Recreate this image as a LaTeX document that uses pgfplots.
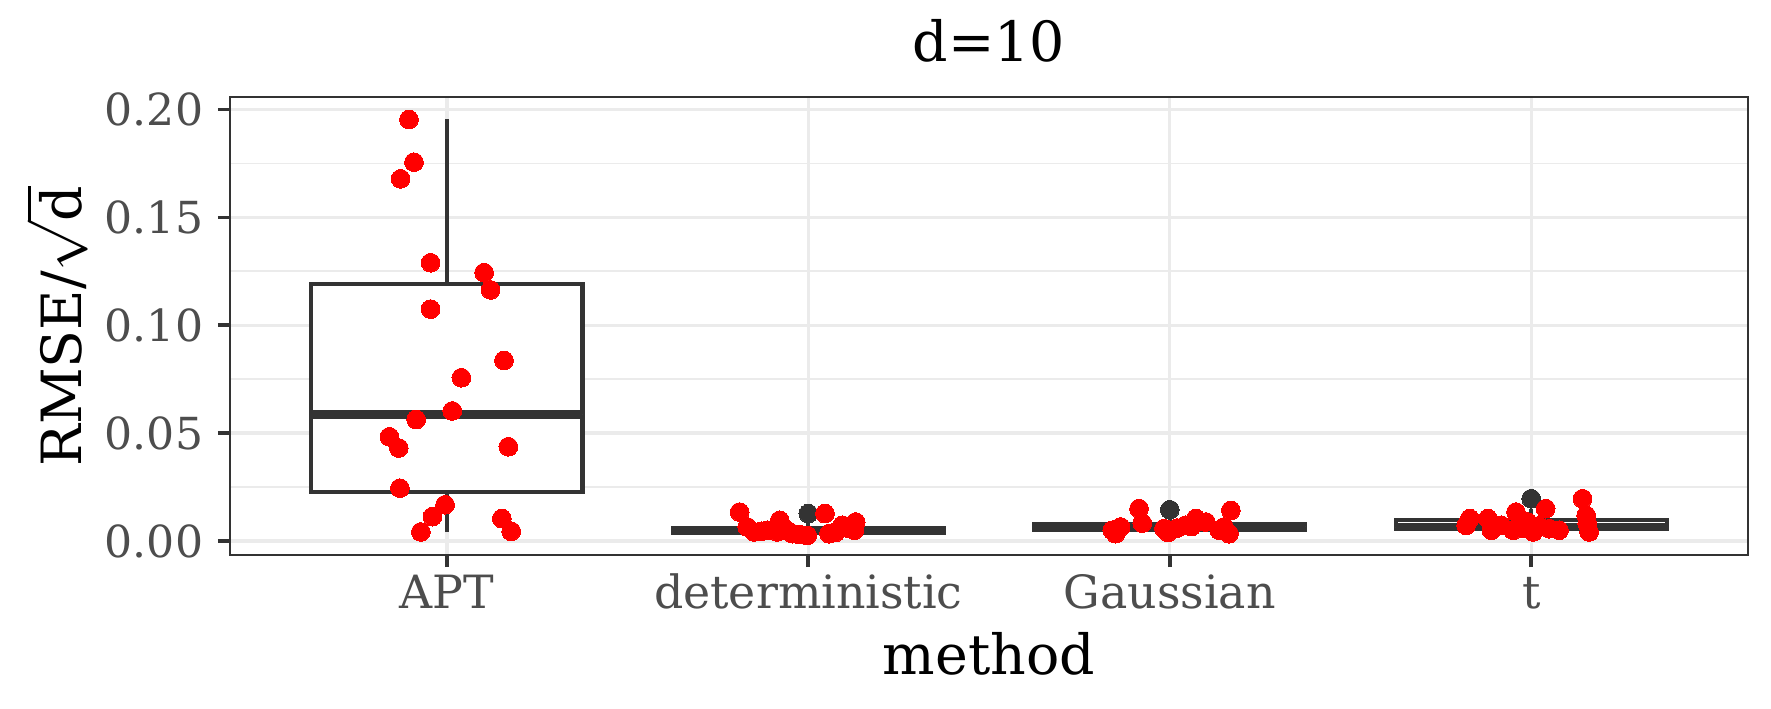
\documentclass[border=0pt]{standalone}
\usepackage{fontspec}
\setmainfont{DejaVu Serif}
\usepackage{pgfplots}
\pgfplotsset{compat=1.18}
\usepgfplotslibrary{statistics}
\definecolor{c333}{HTML}{333333}
\definecolor{c4d}{HTML}{4D4D4D}
\definecolor{gridc}{HTML}{EBEBEB}
\begin{document}
\begin{tikzpicture}
\path[use as bounding box] (-55.2pt,-36.8pt) rectangle (369.8pt,133.2pt);
\begin{axis}[
  at={(0,0)}, anchor=south west,
  scale only axis, width=364.3pt, height=109.9pt,
  xmin=-0.6, xmax=3.6, ymin=-0.0065, ymax=0.2058,
  xtick={0,1,2,3}, xticklabels={APT,deterministic,Gaussian,t},
  ytick={0,0.05,0.10,0.15,0.20}, yticklabels={0.00,0.05,0.10,0.15,0.20},
  minor ytick={0.025,0.075,0.125,0.175},
  tick align=outside, tick pos=left,
  major tick length=2.9pt,
  every tick/.style={c333, line width=0.9pt},
  minor tick length=0pt,
  axis line style={c333, line width=0.55pt},
  grid=both,
  major grid style={gridc, line width=0.8pt},
  minor grid style={gridc, line width=0.45pt},
  ticklabel style={font=\fontsize{11}{13}\selectfont, text=c4d},
  xticklabel style={anchor=base, yshift=-10pt},
  yticklabel style={anchor=east, font=\fontsize{10.6}{13}\selectfont},
  xlabel={method}, ylabel={RMSE/$\sqrt{\hbox{d}}$},
  label style={font=\fontsize{13.3}{16}\selectfont},
  xlabel style={at={(axis description cs:0.5,-0.26)}, anchor=base},
  ylabel style={at={(axis description cs:-0.1140,0.5)}, anchor=center},
  title={d=10},
  title style={font=\fontsize{13.3}{16}\selectfont, at={(axis description cs:0.5,1)}, anchor=base, yshift=2.6pt},
  boxplot/draw direction=y,
  boxplot/every box/.style={draw=c333, fill=white, line width=1.0pt},
  boxplot/every whisker/.style={draw=c333, line width=1.0pt},
  boxplot/every median/.style={draw=c333, line width=2.0pt},
  bx/.style={draw=c333, fill=white, line width=1.0pt},
  pts/.style={only marks, mark=*, mark size=2.25pt, color=#1, mark options={line width=0pt, fill=#1, draw=#1}},
]
% boxes
\addplot[bx, boxplot prepared={draw position=0, lower whisker=0.0043, lower quartile=0.0229, median=0.0587, upper quartile=0.1190, upper whisker=0.1955, box extend=0.75, whisker extend=0}] coordinates {};
\addplot[bx, boxplot prepared={draw position=1, lower whisker=0.0026, lower quartile=0.0038, median=0.0050, upper quartile=0.0060, upper whisker=0.0088, box extend=0.75, whisker extend=0}] coordinates {};
\addplot[bx, boxplot prepared={draw position=2, lower whisker=0.0034, lower quartile=0.0052, median=0.0066, upper quartile=0.0078, upper whisker=0.0104, box extend=0.75, whisker extend=0}] coordinates {};
\addplot[bx, boxplot prepared={draw position=3, lower whisker=0.0042, lower quartile=0.0054, median=0.0064, upper quartile=0.0096, upper whisker=0.0150, box extend=0.75, whisker extend=0}] coordinates {};
% outliers
\addplot[pts=c333] coordinates {(1,0.0127) (2,0.0145) (3,0.0196)};
% jittered points
\addplot[pts=red] coordinates {
(-0.105,0.1954) (-0.091,0.1756) (-0.128,0.1679) (-0.045,0.1290) (0.103,0.1244)
(0.121,0.1164) (-0.045,0.1075) (0.158,0.0837) (0.040,0.0757) (0.015,0.0603)
(-0.085,0.0563) (-0.159,0.0483) (-0.133,0.0431) (0.170,0.0437) (-0.130,0.0245)
(-0.005,0.0168) (-0.040,0.0113) (0.152,0.0104) (-0.072,0.0042) (0.178,0.0045)
};
\addplot[pts=red] coordinates {
(0.810,0.0134) (0.831,0.0065) (0.850,0.0042) (0.887,0.0050) (0.921,0.0096)
(0.914,0.0042) (0.956,0.0034) (0.997,0.0026) (1.046,0.0127) (1.057,0.0034)
(1.094,0.0073) (1.131,0.0088) (1.127,0.0050) (0.870,0.0045) (0.975,0.0030)
(1.075,0.0040) (1.110,0.0060) (0.940,0.0050)
};
\addplot[pts=red] coordinates {
(1.841,0.0050) (1.864,0.0065) (1.850,0.0034) (1.915,0.0150) (1.924,0.0083)
(1.984,0.0057) (2.000,0.0050) (2.044,0.0073) (2.072,0.0104) (2.100,0.0088)
(2.137,0.0050) (2.169,0.0142) (2.164,0.0034) (2.150,0.0065) (2.020,0.0060)
(2.060,0.0068) (1.995,0.0040)
};
\addplot[pts=red] coordinates {
(2.820,0.0073) (2.830,0.0104) (2.880,0.0104) (2.890,0.0050) (2.917,0.0073)
(2.950,0.0050) (2.958,0.0134) (3.005,0.0042) (2.990,0.0088) (3.040,0.0150)
(3.050,0.0057) (3.077,0.0050) (3.142,0.0196) (3.152,0.0119) (3.155,0.0080)
(3.160,0.0042) (2.975,0.0060) (3.020,0.0070)
};
\end{axis}
\end{tikzpicture}
\end{document}
